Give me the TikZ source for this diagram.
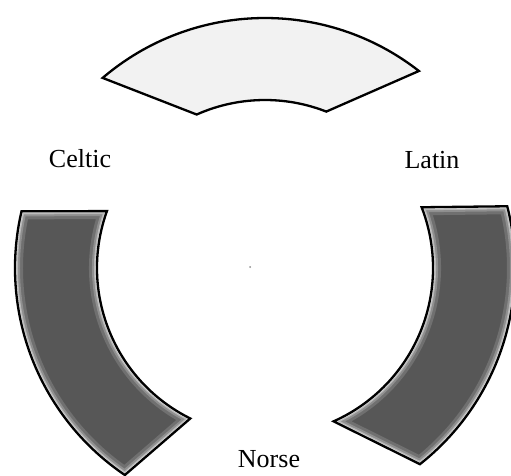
\documentclass[tikz,border=0pt]{standalone}
\usepackage{fontspec}
\setmainfont{Liberation Serif}
\newcommand\Ro{250}
\newcommand\Ri{168}
\newcommand\darksector[1]{%
  \fill[black!66] #1;
  \begin{scope}
    \clip #1;
    \draw[black!56, line width=16pt] #1;
    \draw[black!44, line width=10pt] #1;
    \draw[black!28, line width=6pt] #1;
    \draw[black!14, line width=3.5pt] #1;
  \end{scope}
  \draw[outline] #1;}
\begin{document}
\begin{tikzpicture}[x=1pt,y=1pt,
  outline/.style={draw=black, line width=2.3pt, line join=miter},
  lab/.style={font=\fontsize{26}{30}\selectfont, anchor=base, inner sep=0pt}]
\useasboundingbox (0,0) rectangle (511,475);
\coordinate (C) at (265,207);
% top sector (light)
\fill[black!5] ([shift={(130.5:\Ro)}]C) arc[start angle=130.5, end angle=52, radius=\Ro]
  -- ([shift={(68.6:\Ri)}]C) arc[start angle=68.6, end angle=114, radius=\Ri] -- cycle;
\draw[outline] ([shift={(130.5:\Ro)}]C) arc[start angle=130.5, end angle=52, radius=\Ro]
  -- ([shift={(68.6:\Ri)}]C) arc[start angle=68.6, end angle=114, radius=\Ri] -- cycle;
% left sector
\darksector{([shift={(166.9:\Ro)}]C) arc[start angle=166.9, end angle=235.9, radius=\Ro]
  -- ([shift={(243.6:\Ri)}]C) arc[start angle=243.6, end angle=160.2, radius=\Ri] -- cycle}
% right sector
\darksector{([shift={(14.3:\Ro)}]C) arc[start angle=14.3, end angle=-51.7, radius=\Ro]
  -- ([shift={(-65.9:\Ri)}]C) arc[start angle=-65.9, end angle=21.2, radius=\Ri] -- cycle}
% centre dot
\fill[black!45] (250,208) circle[radius=1pt];
% labels
\node[lab] (celtic) at (80,308) {Celtic};
\node[lab] (latin) at (432,307) {Latin};
\node[lab] (norse) at (269,8) {Norse};
\end{tikzpicture}
\end{document}
